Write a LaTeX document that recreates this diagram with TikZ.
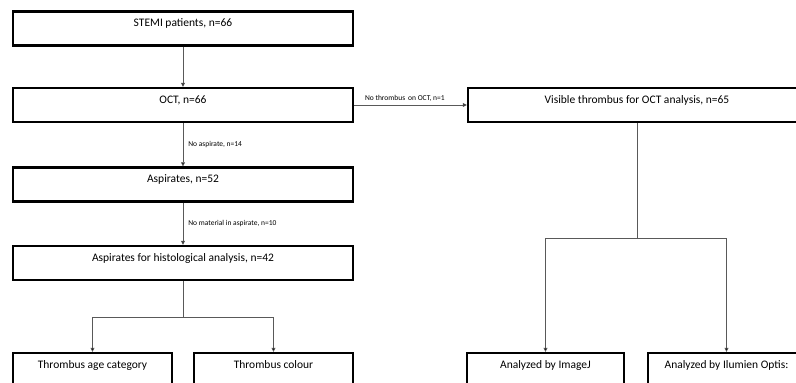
\documentclass[tikz,border=0pt]{standalone}
\usepackage{fontspec}
\setmainfont{Carlito}
\usepackage{tikz}
\usetikzlibrary{arrows.meta, positioning, calc}

\begin{document}
\begin{tikzpicture}[x=1pt, y=-1pt,
                flow box/.style={draw=black, line width=2.4pt, rectangle,
                    minimum height=34pt, inner xsep=2pt, inner ysep=0pt,
                    text height=15pt, text depth=19pt, font=\fontsize{11.5}{13}\selectfont},
                flow line/.style={draw=black!65, line width=0.7pt},
                flow arrow/.style={flow line, -{Triangle[length=4pt, width=4pt, fill=black]}},
                side note/.style={font=\fontsize{7.5}{9}\selectfont, inner sep=1pt}]
                \useasboundingbox (0,0) rectangle (796,383);
                \clip (0,0) rectangle (796,383);
                \fill[white] (0,0) rectangle (796,383);

                % Left column - aspirate path
                \node[flow box, minimum width=340pt] (stemi) at (183,28.5) {STEMI patients, n=66};
                \node[flow box, minimum width=340pt] (oct) at (183,105) {OCT, n=66};
                \node[flow box, minimum width=340pt] (asp) at (183,184.5) {Aspirates, n=52};
                \node[flow box, minimum width=340pt] (histo) at (183,263) {Aspirates for histological analysis, n=42};
                \node[flow box, minimum width=159pt] (agecat) at (92.5,370) {Thrombus age category};
                \node[flow box, minimum width=159pt] (colour) at (273.5,370) {Thrombus colour};

                % Right column - OCT path
                \node[flow box, minimum width=338pt] (visible) at (637,105) {Visible thrombus for OCT analysis, n=65};
                \node[flow box, minimum width=157pt] (imagej) at (545.5,370) {Analyzed by ImageJ};
                \node[flow box, minimum width=157pt] (optis) at (726.5,370) {Analyzed by Ilumien Optis:};

                % Connectors
                \draw[flow arrow] (stemi) -- (oct);
                \draw[flow arrow] (oct) -- node[side note, right, xshift=4pt] {No aspirate, n=14} (asp);
                \draw[flow arrow] (asp) -- node[side note, right, xshift=4pt] {No material in aspirate, n=10} (histo);
                \draw[flow arrow] (oct) -- node[side note, above, pos=0.45, yshift=2pt] {No thrombus\, on OCT, n=1} (visible);

                \coordinate (histsplit) at (183,317);
                \draw[flow line] (histo) -- (histsplit);
                \draw[flow arrow] (histsplit) -| (agecat);
                \draw[flow arrow] (histsplit) -| (colour);

                \coordinate (vissplit) at (637,238);
                \draw[flow line] (visible) -- (vissplit);
                \draw[flow arrow] (vissplit) -| (imagej);
                \draw[flow arrow] (vissplit) -| (optis);
            \end{tikzpicture}
\end{document}
